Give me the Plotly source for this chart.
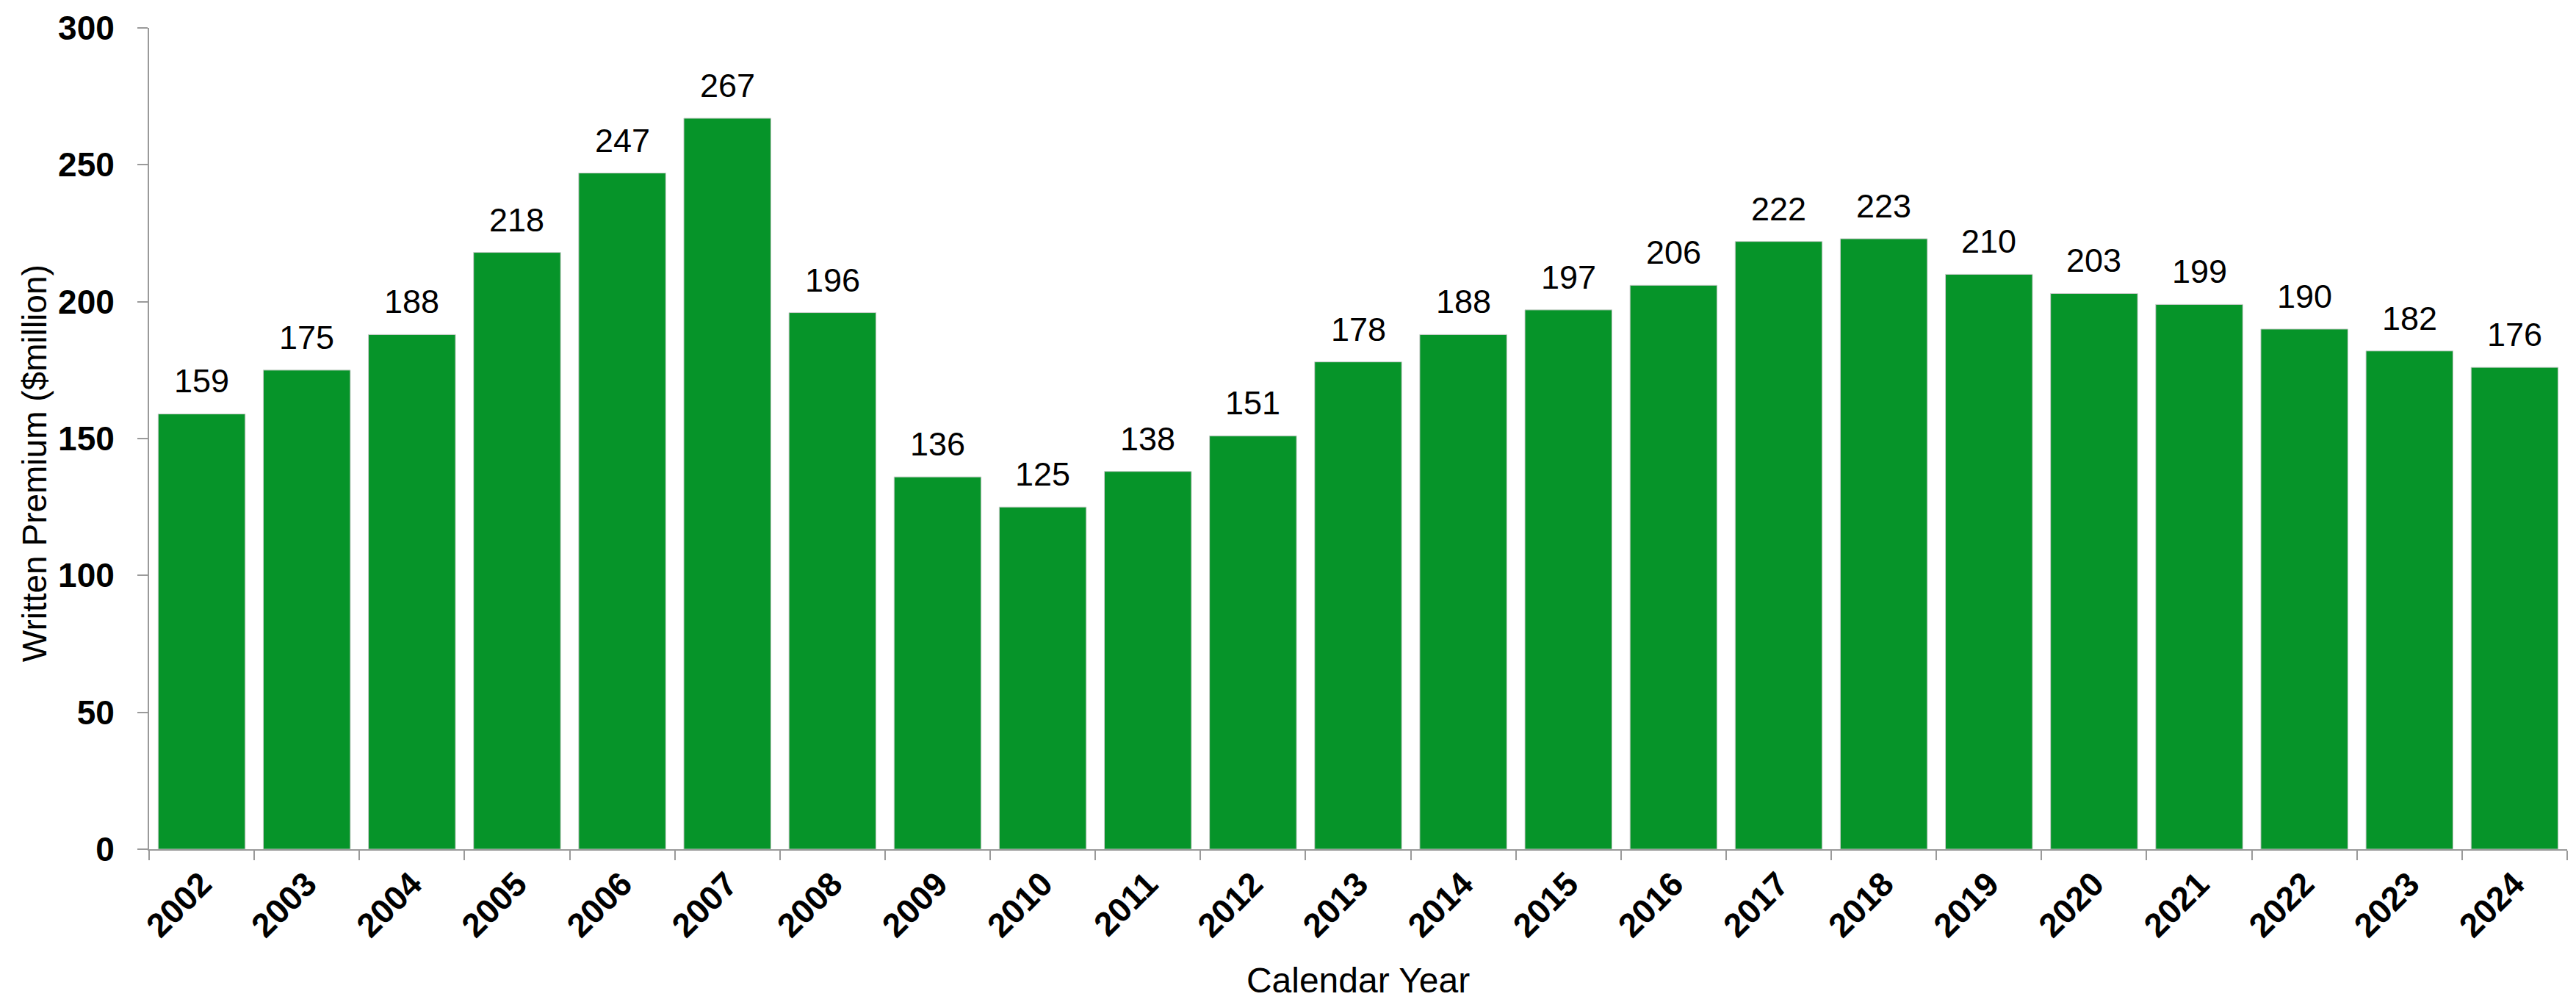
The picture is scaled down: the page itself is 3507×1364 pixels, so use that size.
import plotly.graph_objects as go

# Calendar years and written premium ($ million)
years = ["2002", "2003", "2004", "2005", "2006", "2007", "2008", "2009",
         "2010", "2011", "2012", "2013", "2014", "2015", "2016", "2017",
         "2018", "2019", "2020", "2021", "2022", "2023", "2024"]
premium = [159, 175, 188, 218, 247, 267, 196, 136, 125, 138, 151, 178,
           188, 197, 206, 222, 223, 210, 203, 199, 190, 182, 176]

y_ticks = [0, 50, 100, 150, 200, 250, 300]

BAR_GREEN = "#069429"
AXIS_GREY = "#9a9a9a"
FONT = "Liberation Sans, Arial, sans-serif"

fig = go.Figure(
    go.Bar(
        x=years,
        y=premium,
        marker=dict(color=BAR_GREEN, line=dict(color="#cfcfcf", width=1)),
    )
)

# Value labels sitting just above each bar (category axis positions are indices)
value_labels = [
    dict(
        x=i, y=val, xref="x", yref="y",
        text=str(val),
        showarrow=False,
        xanchor="center", yanchor="bottom",
        yshift=17,
        font=dict(family=FONT, size=45, color="#000000"),
    )
    for i, val in enumerate(premium)
]

y_title = dict(
    text="Written Premium ($million)",
    xref="paper", yref="paper",
    x=-0.0475, y=0.47,
    xanchor="center", yanchor="middle",
    textangle=-90,
    showarrow=False,
    font=dict(family=FONT, size=46, color="#000000"),
)

fig.update_layout(
    width=3507,
    height=1364,
    margin=dict(l=203, r=12, t=31, b=203),
    paper_bgcolor="white",
    plot_bgcolor="white",
    bargap=0.172,
    showlegend=False,
    font=dict(family=FONT, color="#000000"),
    xaxis=dict(
        type="category",
        categoryorder="array",
        categoryarray=years,
        tickangle=-45,
        tickson="boundaries",
        ticks="outside",
        ticklen=13,
        tickwidth=2,
        tickcolor=AXIS_GREY,
        showline=True,
        linecolor=AXIS_GREY,
        linewidth=2,
        showgrid=False,
        tickfont=dict(family=FONT, size=46, color="#000000", weight="bold"),
        title=dict(text="Calendar Year",
                   font=dict(family=FONT, size=48, color="#000000"),
                   standoff=32),
    ),
    yaxis=dict(
        range=[0, 300],
        tickvals=y_ticks,
        ticks="outside",
        ticklen=14,
        tickwidth=2,
        tickcolor=AXIS_GREY,
        showline=True,
        linecolor=AXIS_GREY,
        linewidth=2,
        showgrid=False,
        zeroline=False,
        tickfont=dict(family=FONT, size=46, color="#000000", weight="bold"),
        ticklabelstandoff=22,
    ),
    annotations=value_labels + [y_title],
)

fig.write_html("out.html")
